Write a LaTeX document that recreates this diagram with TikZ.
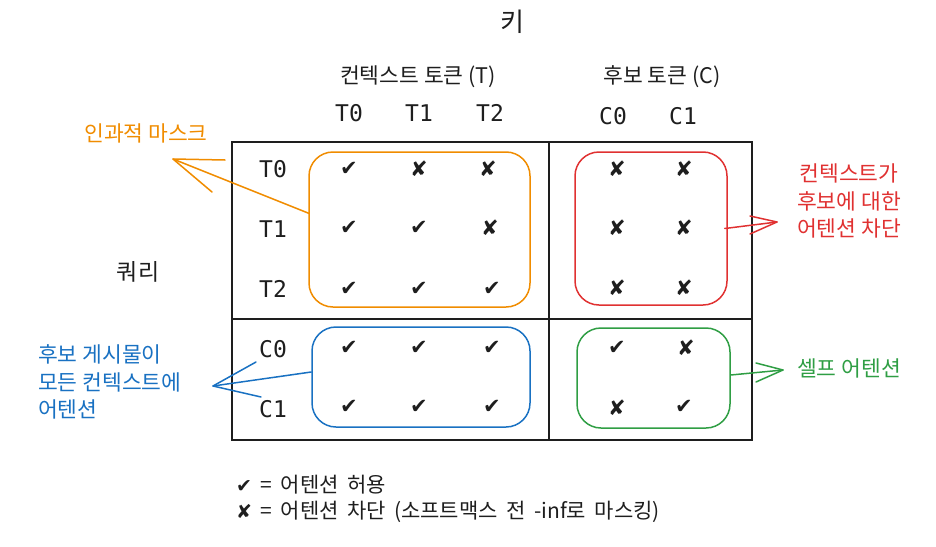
\documentclass[tikz,border=0pt]{standalone}
\usepackage{fontspec}
\setmainfont{Noto Sans CJK KR}
\newfontfamily\legf[WordSpace=1.8]{Noto Sans CJK KR}
\newfontfamily\monof{DejaVu Sans Mono}
\newfontfamily\symf{DejaVu Sans}
\usetikzlibrary{calc}
\definecolor{ink}{HTML}{1E1E1E}
\definecolor{xorange}{HTML}{F08C00}
\definecolor{xred}{HTML}{E03131}
\definecolor{xblue}{HTML}{1971C2}
\definecolor{xgreen}{HTML}{2F9E44}
\begin{document}
\begin{tikzpicture}[x=1pt,y=-1pt,
  kor/.style={font=\fontsize{21.5}{27.5}\selectfont, inner sep=0pt},
  lab/.style={font=\monof\fontsize{23}{26}\selectfont, text=ink, inner sep=0pt},
  mk/.style={font=\symf\fontsize{21}{22}\selectfont, text=ink, inner sep=0pt},
  grp/.style={draw, line width=1.5pt, rounded corners=24pt, inner sep=0pt},
  grid/.style={draw=ink, line width=1.6pt},
  conn/.style={line width=1.5pt, line cap=round, line join=round}]
\useasboundingbox (0,0) rectangle (936,546);
% titles
\node[kor, font=\fontsize{26}{26}\selectfont, text=ink] (key) at (512,22) {키};
\node[kor, text=ink] (ctx) at (418,77) {컨텍스트 토큰 (T)};
\node[kor, text=ink] (cand) at (662,77) {후보 토큰 (C)};
\node[kor, font=\fontsize{23}{26}\selectfont, text=ink] (query) at (138,272) {쿼리};
% column labels
\node[lab] (kT0) at (349,113) {T0};
\node[lab] (kT1) at (419,113) {T1};
\node[lab] (kT2) at (490,113) {T2};
\node[lab] (kC0) at (613,116) {C0};
\node[lab] (kC1) at (683,116) {C1};
% row labels
\node[lab] (qT0) at (273,169) {T0};
\node[lab] (qT1) at (273,229) {T1};
\node[lab] (qT2) at (273,289) {T2};
\node[lab] (qC0) at (273,349) {C0};
\node[lab] (qC1) at (273,409) {C1};
% grid
\draw[grid] (232,142) rectangle (752,440);
\draw[grid] (549,142) -- (549,440);
\draw[grid] (232,319) -- (752,319);
% marks
\def\ok{✔}\def\no{✘}
\node[mk] (m00) at (349,169) {\ok};
\node[mk] (m01) at (419,169) {\no};
\node[mk] (m02) at (488,169) {\no};
\node[mk] (m10) at (349,228) {\ok};
\node[mk] (m11) at (419,228) {\ok};
\node[mk] (m12) at (490,228) {\no};
\node[mk] (m20) at (349,289) {\ok};
\node[mk] (m21) at (419,289) {\ok};
\node[mk] (m22) at (492,289) {\ok};
\node[mk] (m03) at (617,169) {\no};
\node[mk] (m04) at (684,169) {\no};
\node[mk] (m13) at (617,228) {\no};
\node[mk] (m14) at (684,228) {\no};
\node[mk] (m23) at (617,288) {\no};
\node[mk] (m24) at (684,288) {\no};
\node[mk] (m30) at (349,348) {\ok};
\node[mk] (m31) at (419,348) {\ok};
\node[mk] (m32) at (492,348) {\ok};
\node[mk] (m40) at (349,407) {\ok};
\node[mk] (m41) at (419,407) {\ok};
\node[mk] (m42) at (492,407) {\ok};
\node[mk] (m33) at (617,348) {\ok};
\node[mk] (m34) at (686,348) {\no};
\node[mk] (m43) at (617,408) {\no};
\node[mk] (m44) at (684,407) {\ok};
% group boxes
\node[grp, draw=xorange, minimum width=221pt, minimum height=155pt] (obox) at (419.5,229.5) {};
\node[grp, draw=xred, minimum width=152pt, minimum height=153pt] (rbox) at (651,228.5) {};
\node[grp, draw=xblue, minimum width=218pt, minimum height=100pt] (bbox) at (421,377) {};
\node[grp, draw=xgreen, minimum width=153pt, minimum height=100pt] (gbox) at (653.5,378) {};
% annotation texts
\node[kor, text=xorange] (otext) at (146,133) {인과적 마스크};
\node[kor, text=xred, align=center] (rtext) at (849,201) {컨텍스트가\\후보에 대한\\어텐션 차단};
\node[kor, text=xgreen] (gtext) at (849,368) {셀프 어텐션};
\node[kor, text=xblue, align=left, anchor=west] (btext) at (38,382) {후보 게시물이\\모든 컨텍스트에\\어텐션};
% connectors
\coordinate (otip) at (173,159);
\draw[conn, xorange] ($(obox.west)+(1,-16)$) -- (otip);
\draw[conn, xorange] (otip) -- ++(52,1) (otip) -- ++(39,33);
\coordinate (rtip) at (777,222);
\draw[conn, xred] ($(rbox.east)+(-3,0)$) -- (rtip);
\draw[conn, xred] (rtip) -- ++(-27,-6) (rtip) -- ++(-27,12);
\coordinate (gtip) at (783,370);
\draw[conn, xgreen] ($(gbox.east)+(0,-3)$) -- (gtip);
\draw[conn, xgreen] (gtip) -- ++(-27,-7) (gtip) -- ++(-27,12);
\coordinate (btip) at (213,386);
\draw[conn, xblue] ($(bbox.west)+(0,-5)$) -- (btip);
\draw[conn, xblue] (btip) -- ++(43,-24) (btip) -- ++(48,11);
% legend
\node[kor, text=ink, anchor=west, font=\legf\fontsize{21}{26}\selectfont] (leg1) at (236,485) {{\symf\fontsize{19}{20}\selectfont ✔} = 어텐션 허용};
\node[kor, text=ink, anchor=west, font=\legf\fontsize{21}{26}\selectfont] (leg2) at (236,512) {{\symf\fontsize{19}{20}\selectfont ✘} = 어텐션 차단 (소프트맥스 전 -inf로 마스킹)};
\end{tikzpicture}
\end{document}
